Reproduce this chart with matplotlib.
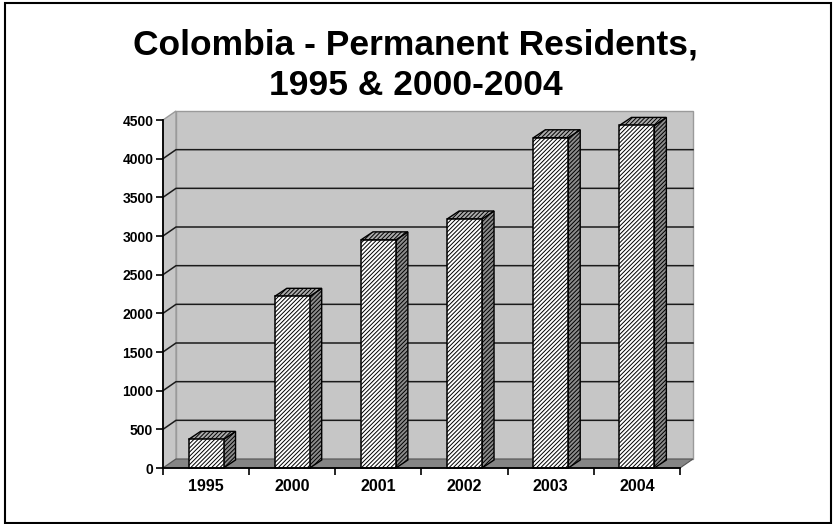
import numpy as np
import matplotlib
matplotlib.use('Agg')
import matplotlib.pyplot as plt
from matplotlib.patches import Polygon, Rectangle

years = ['1995', '2000', '2001', '2002', '2003', '2004']
residents = [370, 2220, 2950, 3220, 4270, 4430]
yticks = np.arange(0, 4501, 500)

plt.rcParams['font.family'] = ['Liberation Sans', 'DejaVu Sans']
plt.rcParams['hatch.linewidth'] = 0.7

fig = plt.figure(figsize=(8.33, 5.24), dpi=100)
ax = fig.add_axes([163/833, 1 - 468/524, 517/833, 348/524])
ax.set_xlim(-0.5, len(years) - 0.5)
ax.set_ylim(0, 4500)
ax.patch.set_visible(False)

# pixel depth of the 3d box -> data units
p0 = ax.transData.transform((0, 0))
p1 = ax.transData.transform((1, 1))
ux, uy = p1[0] - p0[0], p1[1] - p0[1]
wdx, wdy = 13 / ux, 9 / uy   # walls
bdx, bdy = 12 / ux, 8 / uy   # bars
x_lo, x_hi = -0.5, len(years) - 0.5
top = yticks[-1]

wall_c = '#c6c6c6'
# back wall, side wall, floor
ax.add_patch(Rectangle((x_lo + wdx, wdy), x_hi - x_lo, top, fc=wall_c, ec='#9a9a9a',
                       lw=1, clip_on=False, zorder=0))
ax.add_patch(Polygon([(x_lo, 0), (x_lo, top), (x_lo + wdx, top + wdy), (x_lo + wdx, wdy)],
                     fc=wall_c, ec='#9a9a9a', lw=1, clip_on=False, zorder=0))
ax.add_patch(Polygon([(x_lo, 0), (x_hi, 0), (x_hi + wdx, wdy), (x_lo + wdx, wdy)],
                     fc='#858585', ec='#555555', lw=0.8, clip_on=False, zorder=0.5))

# gridlines on side + back wall
for v in yticks[1:-1]:
    ax.plot([x_lo, x_lo + wdx, x_hi + wdx], [v, v + wdy, v + wdy], color='#1a1a1a',
            lw=1.1, clip_on=False, zorder=0.6)

# bars
w = 0.405
hatch = '////////'
for i, v in enumerate(residents):
    x0, x1 = i - w / 2, i + w / 2
    ax.add_patch(Polygon([(x1, 0), (x1 + bdx, bdy), (x1 + bdx, v + bdy), (x1, v)],
                         fc='#8c8c8c', ec='black', hatch=hatch, lw=1, clip_on=False, zorder=2))
    ax.add_patch(Polygon([(x0, v), (x1, v), (x1 + bdx, v + bdy), (x0 + bdx, v + bdy)],
                         fc='#ababab', ec='black', hatch=hatch, lw=1, clip_on=False, zorder=2))
    ax.add_patch(Rectangle((x0, 0), w, v, fc='white', ec='black', hatch=hatch,
                           lw=1.1, clip_on=False, zorder=2.1))

# axes
for s in ['top', 'right']:
    ax.spines[s].set_visible(False)
for s in ['left', 'bottom']:
    ax.spines[s].set_color('black')
    ax.spines[s].set_linewidth(1.3)
    ax.spines[s].set_zorder(3)
ax.set_yticks(yticks)
ax.set_yticklabels([str(t) for t in yticks], fontsize=10, fontweight='bold')
ax.tick_params(axis='y', direction='out', length=5, width=1.2, pad=2)
ax.set_xticks(np.arange(x_lo, x_hi + 0.01, 1.0))
ax.set_xticklabels([])
ax.tick_params(axis='x', which='major', direction='out', length=5, width=1.2)
ax.set_xticks(np.arange(len(years)), minor=True)
ax.set_xticklabels(years, minor=True, fontsize=11.5, fontweight='bold')
ax.tick_params(axis='x', which='minor', length=0, pad=8)

fig.text(0.499, 1 - 55/524, 'Colombia - Permanent Residents,', ha='center', va='baseline',
         fontsize=25.5, fontweight='bold')
fig.text(0.499, 1 - 95/524, '1995 & 2000-2004', ha='center', va='baseline',
         fontsize=25.5, fontweight='bold')

fig.add_artist(Rectangle((5/833, 1 - 523/524), 825.5/833, 520/524, transform=fig.transFigure,
                         fill=False, ec='black', lw=1.5))

fig.savefig('out.png', dpi=100)
